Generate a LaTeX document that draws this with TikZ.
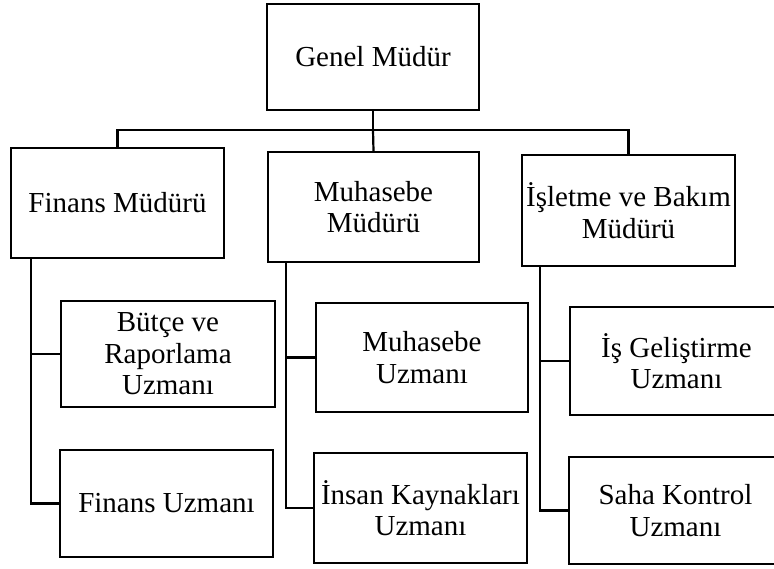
\documentclass[tikz,border=0pt]{standalone}
\usepackage{fontspec}
\setmainfont{Liberation Serif}
\begin{document}
\begin{tikzpicture}[x=1pt,y=-1pt,
  box/.style={draw, line width=2pt, minimum width=213pt, minimum height=108pt,
    align=center, inner sep=0pt, font=\fontsize{29}{31.5}\selectfont},
  conn/.style={line width=2.2pt}]
\clip (0,0) rectangle (774,569);
\fill[white] (0,0) rectangle (774,569);
% boxes
\node[box, minimum width=212pt, minimum height=106pt] (g) at (373,57) {Genel Müdür};
\node[box, minimum height=110pt] (f) at (117.5,203) {Finans Müdürü};
\node[box, minimum width=211pt, minimum height=110pt] (m) at (373.5,207) {Muhasebe\\Müdürü};
\node[box, minimum height=111pt] (i) at (628.5,210.5) {İşletme ve Bakım\\Müdürü};
\node[box, minimum width=214pt, minimum height=106pt] (f1) at (168,354) {Bütçe ve\\Raporlama\\Uzmanı};
\node[box, minimum height=107pt] (f2) at (166.5,503.5) {Finans Uzmanı};
\node[box, minimum width=212pt, minimum height=109pt] (m1) at (422,357.5) {Muhasebe\\Uzmanı};
\node[box, minimum height=110pt] (m2) at (420.5,508) {İnsan Kaynakları\\Uzmanı};
\node[box, minimum height=108pt] (i1) at (676.5,361) {İş Geliştirme\\Uzmanı};
\node[box, minimum height=107pt] (i2) at (675.5,510.5) {Saha Kontrol\\Uzmanı};
% top bus
\coordinate (bus) at (373,130);
\draw[conn] (g.south) -- (bus);
\draw[conn] (f.north) |- (bus) -| (i.north);
\draw[conn] (bus) -- (m.north);
% spines
\coordinate (fs) at ([xshift=21pt]f.south west);
\coordinate (ms) at ([xshift=19pt]m.south west);
\coordinate (is) at ([xshift=19pt]i.south west);
\draw[conn] (fs) |- (f1.west);
\draw[conn] (fs) |- (f2.west);
\draw[conn] (ms) |- (m1.west);
\draw[conn] (ms) |- (m2.west);
\draw[conn] (is) |- (i1.west);
\draw[conn] (is) |- (i2.west);
\end{tikzpicture}
\end{document}
